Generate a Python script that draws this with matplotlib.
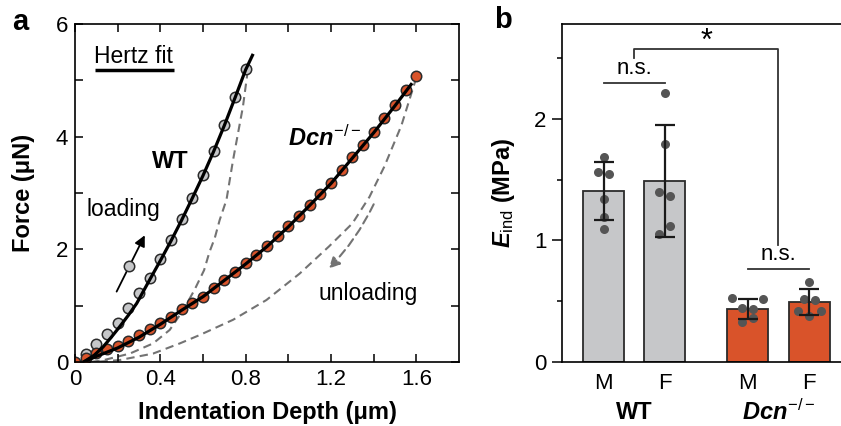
import numpy as np
import matplotlib
matplotlib.use('Agg')
import matplotlib.pyplot as plt
import matplotlib.transforms as mtransforms

plt.rcParams['font.family'] = ['Liberation Sans', 'DejaVu Sans']
plt.rcParams['mathtext.fontset'] = 'custom'
plt.rcParams['mathtext.it'] = 'Liberation Sans:italic:bold'
plt.rcParams['mathtext.rm'] = 'Liberation Sans'
plt.rcParams['mathtext.bf'] = 'Liberation Sans:bold'

# =====================================================================
# DATA
# =====================================================================
# panel a: loading curves (depth in um, force in uN)
wt_depth = [0.05, 0.10, 0.15, 0.20, 0.25, 0.30, 0.35, 0.40, 0.45, 0.50,
            0.55, 0.60, 0.65, 0.70, 0.75, 0.80]
wt_force = [0.14, 0.32, 0.49, 0.70, 0.96, 1.22, 1.50, 1.82, 2.17, 2.53,
            2.92, 3.32, 3.75, 4.21, 4.70, 5.20]

dcn_depth = [0.00, 0.05, 0.10, 0.15, 0.20, 0.25, 0.30, 0.35, 0.40, 0.45, 0.50,
             0.55, 0.60, 0.65, 0.70, 0.75, 0.80, 0.85, 0.90, 0.95, 1.00,
             1.05, 1.10, 1.15, 1.20, 1.25, 1.30, 1.35, 1.40, 1.45, 1.50,
             1.55, 1.60]
dcn_force = [0.00, 0.08, 0.16, 0.23, 0.29, 0.37, 0.48, 0.58, 0.69, 0.80, 0.94,
             1.05, 1.16, 1.32, 1.46, 1.60, 1.75, 1.90, 2.06, 2.24, 2.41,
             2.59, 2.79, 2.98, 3.18, 3.41, 3.64, 3.85, 4.09, 4.33, 4.57,
             4.83, 5.08]

# Hertz fit lines
wt_fit_x = [0.04, 0.09, 0.132, 0.17, 0.21, 0.25, 0.289, 0.35, 0.40, 0.45, 0.50,
            0.55, 0.60, 0.65, 0.70, 0.75, 0.80, 0.835]
wt_fit_y = [0.00, 0.12, 0.27, 0.44, 0.63, 0.83, 1.04, 1.46, 1.80, 2.15, 2.52,
            2.91, 3.31, 3.74, 4.20, 4.69, 5.19, 5.47]
dcn_fit_x = [0.04, 0.10, 0.20, 0.30, 0.40, 0.50, 0.60, 0.70, 0.80, 0.90, 1.00,
             1.10, 1.20, 1.30, 1.40, 1.50, 1.58]
dcn_fit_y = [0.00, 0.10, 0.25, 0.44, 0.67, 0.92, 1.16, 1.45, 1.74, 2.05, 2.40,
             2.78, 3.17, 3.62, 4.07, 4.55, 4.95]

# unloading curves
wt_unl_x = [0.81, 0.787, 0.764, 0.741, 0.71, 0.678, 0.655, 0.63, 0.605, 0.56,
            0.507, 0.444, 0.366, 0.257, 0.13, 0.07]
wt_unl_y = [5.18, 4.53, 4.06, 3.59, 2.88, 2.52, 2.20, 1.95, 1.63, 1.28,
            0.92, 0.57, 0.33, 0.15, 0.03, 0.00]
dcn_unl_x = [1.60, 1.53, 1.45, 1.38, 1.30, 1.19, 1.053, 0.897, 0.741, 0.585,
             0.491, 0.366, 0.21, 0.09]
dcn_unl_y = [5.05, 4.20, 3.47, 2.93, 2.46, 2.05, 1.57, 1.10, 0.75, 0.48,
             0.33, 0.15, 0.035, 0.00]

# panel b: indentation modulus (MPa)
groups = ['M', 'F', 'M', 'F']
bar_pos = [0, 1, 2.35, 3.35]
e_mean = [1.408, 1.49, 0.435, 0.49]
e_sd = [0.24, 0.46, 0.083, 0.107]
e_points = [
    [1.687, 1.564, 1.55, 1.337, 1.194, 1.093],
    [2.213, 1.791, 1.40, 1.367, 1.118, 1.052],
    [0.523, 0.518, 0.441, 0.433, 0.326, 0.359],
    [0.655, 0.518, 0.509, 0.419, 0.419, 0.38],
]
jitter = [
    [0, -0.085, 0.09, 0, 0, 0],
    [0, 0, -0.09, 0.09, 0.09, -0.09],
    [-0.265, 0.24, -0.09, 0.08, -0.1, 0.09],
    [0, -0.08, 0.09, -0.19, 0.2, 0],
]

GRAY = '#c6c7c9'
ORANGE = '#d9532a'
EDGE = '#2b2b2b'
DASH = '#737373'

fig = plt.figure(figsize=(8.41, 4.26), dpi=100)

# =====================================================================
# PANEL A
# =====================================================================
ax = fig.add_axes([0.0892, 0.1502, 0.4566, 0.7934])

ax.plot(wt_unl_x, wt_unl_y, color=DASH, lw=1.5, ls=(0, (4, 2.5)), zorder=1)
ax.plot(dcn_unl_x, dcn_unl_y, color=DASH, lw=1.5, ls=(0, (4, 2.5)), zorder=1)

ax.plot(wt_depth, wt_force, 'o', ms=7.5, mfc=GRAY, mec=EDGE, mew=1.1, zorder=2)
ax.plot(dcn_depth, dcn_force, 'o', ms=7.5, mfc=ORANGE, mec=EDGE, mew=1.1, zorder=2)
ax.plot(wt_fit_x, wt_fit_y, color='k', lw=2.3, zorder=3, solid_capstyle='butt')
ax.plot(dcn_fit_x, dcn_fit_y, color='k', lw=2.3, zorder=3, solid_capstyle='butt')

# Hertz fit key
ax.plot([0.094, 0.463], [5.18, 5.18], color='k', lw=2.5, solid_capstyle='butt')
ax.text(0.275, 5.42, 'Hertz fit', fontsize=16.5, ha='center', va='center')

# loading arrow
ax.annotate('', xy=(0.327, 2.25), xytext=(0.195, 1.25),
            arrowprops=dict(arrowstyle='-|>', color='k', lw=1.3, mutation_scale=16,
                            shrinkA=0, shrinkB=0))
ax.plot([0.254], [1.70], 'o', ms=7.5, mfc=GRAY, mec=EDGE, mew=1.1, zorder=4)
ax.text(0.225, 2.70, 'loading', fontsize=16.5, ha='center', va='center')

# unloading arrow
ax.annotate('', xy=(1.19, 1.66), xytext=(1.40, 2.80),
            arrowprops=dict(arrowstyle='-|>', color=DASH, lw=1.5, ls=(0, (4, 2.5)),
                            mutation_scale=16, shrinkA=0, shrinkB=0,
                            connectionstyle='arc3,rad=-0.08'))
ax.text(1.375, 1.22, 'unloading', fontsize=16.5, ha='center', va='center')

ax.text(0.445, 3.56, 'WT', fontsize=17, fontweight='bold', ha='center', va='center')
ax.text(1.17, 3.97, r'$Dcn^{-/-}$', fontsize=17, ha='center', va='center')

ax.set_xlim(0, 1.8)
ax.set_ylim(0, 6)
ax.set_xticks([0, 0.4, 0.8, 1.2, 1.6])
ax.set_xticklabels(['0', '0.4', '0.8', '1.2', '1.6'])
ax.set_xticks(np.arange(0.2, 1.8, 0.4), minor=True)
ax.set_yticks([0, 2, 4, 6])
ax.set_yticks([1, 3, 5], minor=True)
ax.tick_params(which='both', direction='in', top=True, right=True, length=6,
               width=1.1, labelsize=16, pad=5)
for s in ax.spines.values():
    s.set_linewidth(1.2)
ax.set_xlabel('Indentation Depth (μm)', fontsize=17, fontweight='bold')
ax.set_ylabel('Force (μN)', fontsize=17, fontweight='bold')
ax.xaxis.set_label_coords(0.5, -0.115)
ax.yaxis.set_label_coords(-0.104, 0.5)

fig.text(20 / 841, 1 - 22 / 426, 'a', fontsize=21, fontweight='bold', ha='center', va='center')

# =====================================================================
# PANEL B
# =====================================================================
bx = fig.add_axes([562 / 841, 0.1502, 1 - 562 / 841, 0.7934])
colors = [GRAY, GRAY, ORANGE, ORANGE]
bx.bar(bar_pos, e_mean, width=0.668, color=colors, edgecolor=EDGE, linewidth=1.3, zorder=1)
for i in range(4):
    xs = [bar_pos[i] + j for j in jitter[i]]
    bx.plot(xs, e_points[i], 'o', ms=6.5, color='#555555', mec='none', zorder=2)
bx.errorbar(bar_pos, e_mean, yerr=e_sd, fmt='none', ecolor='#1a1a1a', elinewidth=1.6,
            capsize=7.5, capthick=1.6, zorder=3)

# significance marks
bx.plot([0, 1], [2.295, 2.295], color='#333333', lw=1.3)
bx.text(0.5, 2.33, 'n.s.', fontsize=16, ha='center', va='bottom')
bx.plot([2.35, 3.35], [0.764, 0.764], color='#333333', lw=1.3)
bx.text(2.85, 0.80, 'n.s.', fontsize=16, ha='center', va='bottom')
bx.plot([0.5, 0.5, 2.85, 2.85], [2.498, 2.572, 2.572, 0.961], color='#333333', lw=1.3)
bx.text(1.675, 2.63, '*', fontsize=22, ha='center', va='center')

bx.set_xlim(-0.676, 3.868)
bx.set_ylim(0, 2.78)
bx.set_xticks(bar_pos)
bx.set_xticklabels(groups)
bx.set_yticks([0, 1, 2])
bx.set_yticks([0.5, 1.5, 2.5], minor=True)
bx.tick_params(axis='x', length=0, labelsize=16, pad=8)
bx.tick_params(axis='y', which='major', direction='out', length=7, width=1.1, labelsize=16, pad=4)
bx.tick_params(axis='y', which='minor', direction='out', length=3.5, width=1.1)
bx.spines['right'].set_visible(False)
for s in ['left', 'top', 'bottom']:
    bx.spines[s].set_linewidth(1.2)
bx.set_ylabel(r'$E_{\mathrm{ind}}$ (MPa)', fontsize=17, fontweight='bold')
bx.yaxis.set_label_coords(-0.161, 0.5)

trans = mtransforms.blended_transform_factory(bx.transData, bx.transAxes)
bx.text(0.5, -0.148, 'WT', fontsize=17, fontweight='bold', ha='center', va='center', transform=trans)
bx.text(2.85, -0.148, r'$Dcn^{-/-}$', fontsize=17, ha='center', va='center', transform=trans)

fig.text(503 / 841, 1 - 20 / 426, 'b', fontsize=21, fontweight='bold', ha='center', va='center')

fig.savefig('out.png', dpi=100)
